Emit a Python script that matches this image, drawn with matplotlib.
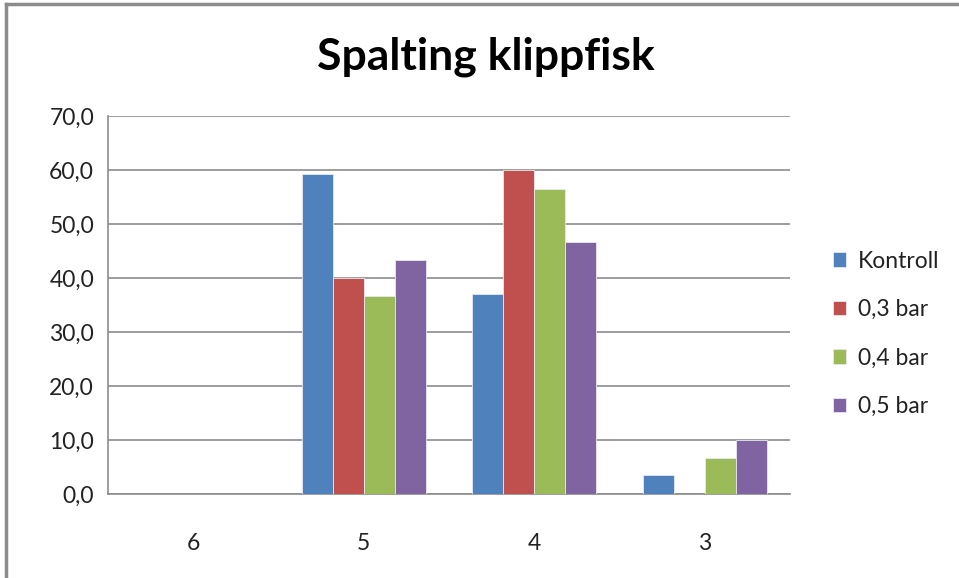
import numpy as np
import matplotlib
matplotlib.use("Agg")
import matplotlib.pyplot as plt
from matplotlib.lines import Line2D

plt.rcParams['font.family'] = ['Lato', 'DejaVu Sans']

categories = ['6', '5', '4', '3']
series = ['Kontroll', '0,3 bar', '0,4 bar', '0,5 bar']
kontroll = [0.0, 59.2, 37.1, 3.6]
bar_03 = [0.0, 40.0, 60.0, 0.0]
bar_04 = [0.0, 36.6, 56.5, 6.7]
bar_05 = [0.0, 43.3, 46.6, 10.0]
values = [kontroll, bar_03, bar_04, bar_05]
colors = ['#4F81BD', '#C0504D', '#9BBB59', '#8064A2']

fig = plt.figure(figsize=(9.59, 5.78), dpi=100)
ax = fig.add_axes([108/959, 1-494/578, (790-108)/959, (494-116)/578])

x = np.arange(len(categories))
w = 1/5.5
for i, (name, vals) in enumerate(zip(series, values)):
    ax.bar(x + (i-1.5)*w, vals, w, color=colors[i], label=name,
           edgecolor='#e8e8f0', linewidth=0.6, zorder=3)

ax.set_xlim(-0.5, 3.5)
ax.set_ylim(0, 70)
ticks = np.arange(0, 71, 10)
ax.set_yticks(ticks)
ax.set_yticklabels([('%.1f' % v).replace('.', ',') for v in ticks])
ax.set_xticks(x)
ax.set_xticklabels(categories)
ax.tick_params(axis='both', length=0, labelsize=16.5, colors='#222222')
ax.tick_params(axis='y', pad=10)
ax.tick_params(axis='x', pad=28)
ax.grid(axis='y', color='#8c8c8c', linewidth=1.2, zorder=0)
for s in ['top', 'right']:
    ax.spines[s].set_visible(False)
for s in ['left', 'bottom']:
    ax.spines[s].set_color('#8c8c8c')
    ax.spines[s].set_linewidth(1.2)

fig.text(486/959, 1-57/578, 'Spalting klippfisk', ha='center', va='center',
         fontsize=32, fontweight='bold', color='black')

leg = fig.legend(loc='center left', bbox_to_anchor=(812/959, 1-334/578),
                 frameon=False, fontsize=16.5, handlelength=0.6, handleheight=0.6,
                 labelspacing=1.2, handletextpad=0.5)
for t in leg.get_texts():
    t.set_color('#222222')

fig.add_artist(Line2D([6/959, 6/959], [0, 1-4/578], color='#8c8c8c', linewidth=2.5))
fig.add_artist(Line2D([6/959, 1], [1-4/578, 1-4/578], color='#8c8c8c', linewidth=2.5))

fig.savefig('out.png', dpi=100)
